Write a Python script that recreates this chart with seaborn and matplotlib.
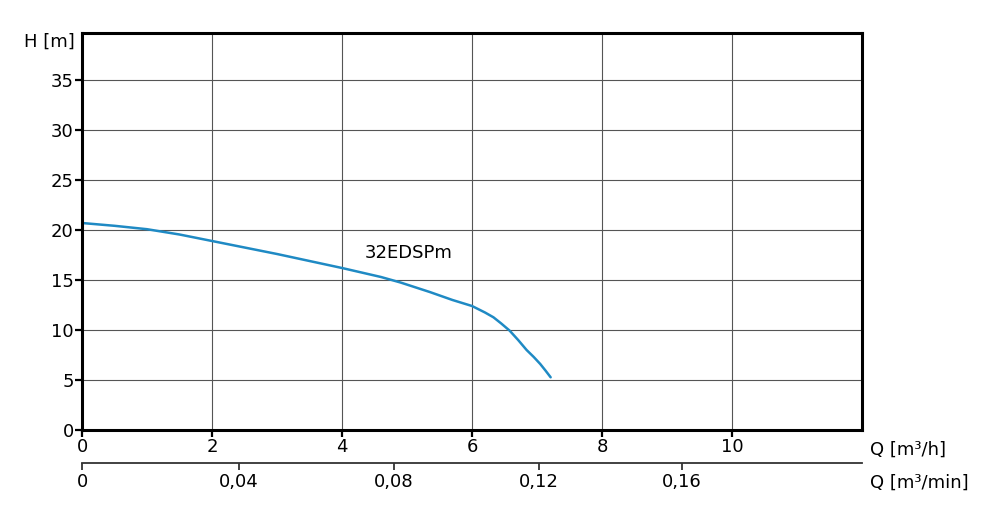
import pandas as pd
import matplotlib.pyplot as plt
import seaborn as sns

# dati curva pompa
q_m3h = [0, 0.5, 1, 1.5, 2, 2.5, 3, 3.5, 4, 4.6, 4.9, 5.35, 5.7, 6.0,
         6.2, 6.33, 6.45, 6.58, 6.71, 6.84, 6.95, 7.05, 7.13, 7.21]
h_m = [20.7, 20.42, 20.08, 19.55, 18.9, 18.25, 17.6, 16.9, 16.2, 15.3, 14.75,
       13.8, 13.0, 12.4, 11.75, 11.27, 10.65, 9.93, 9.0, 8.0, 7.3, 6.6, 5.95, 5.27]
nome_pompa = '32EDSPm'

y_ticks = [0, 5, 10, 15, 20, 25, 30, 35]
x_ticks = [0, 2, 4, 6, 8, 10]
min_tick_pos = [0, 2.415, 4.8, 7.03, 9.23]
min_tick_lab = ['0', '0,04', '0,08', '0,12', '0,16']

sns.set_style('white')
plt.rcParams['font.family'] = ['DejaVu Sans']
plt.rcParams['text.color'] = 'black'
plt.rcParams['xtick.color'] = 'black'
plt.rcParams['ytick.color'] = 'black'
plt.rcParams['xtick.labelcolor'] = 'black'
plt.rcParams['ytick.labelcolor'] = 'black'

df = pd.DataFrame({'Q': q_m3h, 'H': h_m})

fig = plt.figure(figsize=(9.93, 5.21), dpi=100)
ax = fig.add_axes([82/993, 1 - 430/521, 780/993, 397/521])

sns.lineplot(data=df, x='Q', y='H', ax=ax, color='#1f8ac4', linewidth=1.8)

ax.set_xlim(0, 12)
ax.set_ylim(0, 39.7)
ax.set_xticks(x_ticks)
ax.set_yticks(y_ticks)
ax.set_xticklabels([str(t) for t in x_ticks])
ax.set_yticklabels([str(t) for t in y_ticks])
ax.grid(True, color='#555555', linewidth=0.8)
ax.set_axisbelow(True)
for s in ax.spines.values():
    s.set_linewidth(2.2)
    s.set_color('black')
ax.tick_params(axis='both', length=5, width=1.6, labelsize=13, pad=1,
               color='black', labelcolor='black', direction='out')
ax.tick_params(axis='x', bottom=True)
ax.tick_params(axis='y', left=True)
ax.set_xlabel('')
ax.set_ylabel('')

ax.text(4.35, 17.7, nome_pompa, fontsize=13, ha='left', va='center', color='black')

# asse secondario m3/min
sec = ax.secondary_xaxis(-0.083)
sec.set_xticks(min_tick_pos)
sec.set_xticklabels(min_tick_lab)
sec.spines['bottom'].set_linewidth(1.3)
sec.spines['bottom'].set_color('#333333')
sec.tick_params(axis='x', length=5, width=1.3, labelsize=13, pad=2,
                color='#333333', labelcolor='black', direction='out')

fig.text(75/993, 1 - 42/521, 'H [m]', fontsize=13, ha='right', va='center')
fig.text(870/993, 1 - 450/521, 'Q [m³/h]', fontsize=13, ha='left', va='center')
fig.text(870/993, 1 - 483/521, 'Q [m³/min]', fontsize=13, ha='left', va='center')

fig.savefig('out.png', dpi=100)
